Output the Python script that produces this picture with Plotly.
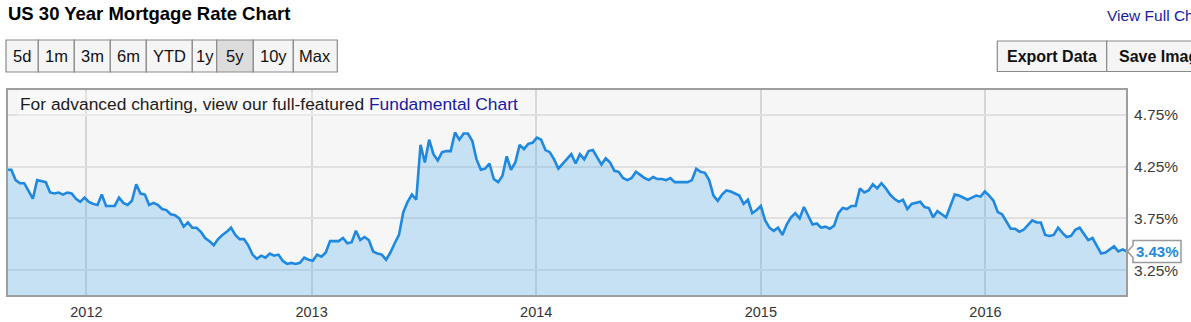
import pandas as pd
import plotly.graph_objects as go

# ---- data: weekly US 30-year mortgage rate (%), Aug 25 2011 .. Aug 18 2016 ----
start_date = "2011-08-25"
rates_2011 = [4.22, 4.22, 4.12, 4.09, 4.09, 4.01, 3.94, 4.12, 4.11, 4.10, 4.00, 3.99,
              4.00, 3.98, 4.00, 3.99, 3.94, 3.91, 3.95]
rates_2012 = [3.91, 3.89, 3.88, 3.98, 3.87, 3.87, 3.87, 3.95, 3.90, 3.88, 3.92, 4.08,
              3.99, 3.98, 3.88, 3.90, 3.88, 3.84, 3.83, 3.79, 3.78, 3.75, 3.67, 3.71,
              3.66, 3.66, 3.62, 3.56, 3.53, 3.49, 3.55, 3.59, 3.62, 3.66, 3.59, 3.55,
              3.55, 3.49, 3.40, 3.36, 3.39, 3.37, 3.41, 3.39, 3.40, 3.34, 3.31, 3.32,
              3.31, 3.32, 3.37, 3.35]
rates_2013 = [3.34, 3.40, 3.38, 3.42, 3.53, 3.53, 3.53, 3.56, 3.51, 3.52, 3.63, 3.54,
              3.57, 3.54, 3.43, 3.41, 3.40, 3.35, 3.42, 3.51, 3.59, 3.81, 3.91, 3.98,
              3.93, 4.46, 4.29, 4.51, 4.37, 4.31, 4.39, 4.40, 4.40, 4.58, 4.51, 4.57,
              4.57, 4.50, 4.32, 4.22, 4.23, 4.28, 4.13, 4.10, 4.16, 4.35, 4.22, 4.29,
              4.46, 4.42, 4.47, 4.48]
rates_2014 = [4.53, 4.51, 4.41, 4.39, 4.32, 4.23, 4.28, 4.33, 4.37, 4.28, 4.37, 4.32,
              4.40, 4.41, 4.34, 4.27, 4.33, 4.29, 4.21, 4.20, 4.14, 4.12, 4.14, 4.20,
              4.17, 4.14, 4.12, 4.15, 4.13, 4.13, 4.12, 4.14, 4.10, 4.10, 4.10, 4.10,
              4.12, 4.23, 4.20, 4.19, 4.12, 3.97, 3.92, 3.98, 4.02, 4.01, 3.99, 3.97,
              3.89, 3.93, 3.80, 3.83, 3.87]
rates_2015 = [3.73, 3.66, 3.63, 3.66, 3.59, 3.69, 3.76, 3.80, 3.75, 3.86, 3.78, 3.69,
              3.70, 3.66, 3.67, 3.65, 3.68, 3.80, 3.85, 3.84, 3.87, 3.87, 4.04, 4.00,
              4.02, 4.08, 4.04, 4.09, 4.04, 3.98, 3.94, 3.91, 3.93, 3.84, 3.89, 3.90,
              3.91, 3.86, 3.85, 3.76, 3.82, 3.79, 3.76, 3.87, 3.98, 3.97, 3.95, 3.93,
              3.95, 3.97, 3.96, 4.01]
rates_2016 = [3.97, 3.92, 3.81, 3.79, 3.72, 3.65, 3.65, 3.62, 3.64, 3.68, 3.73, 3.71,
              3.71, 3.59, 3.58, 3.59, 3.66, 3.61, 3.57, 3.58, 3.64, 3.66, 3.60, 3.54,
              3.56, 3.48, 3.41, 3.42, 3.45, 3.48, 3.43, 3.45, 3.43]
rates = rates_2011 + rates_2012 + rates_2013 + rates_2014 + rates_2015 + rates_2016
dates = pd.date_range(start=start_date, periods=len(rates), freq="7D")

year_ticks = ["2012-01-01", "2013-01-01", "2014-01-01", "2015-01-01", "2016-01-01"]
year_labels = ["2012", "2013", "2014", "2015", "2016"]
y_ticks = [3.25, 3.75, 4.25, 4.75]
y_labels = ["3.25%", "3.75%", "4.25%", "4.75%"]
range_buttons = ["5d", "1m", "3m", "6m", "YTD", "1y", "5y", "10y", "Max"]
button_edges = [6, 38.3, 74.3, 110.3, 146.3, 192.3, 216.7, 253.3, 293.3, 337.3]
active_button = "5y"
last_value = rates[-1]

# ---- geometry ----
W, H = 1191, 322
L, R, T, B = 7, 1127, 89, 296
FONT = "Arial, Liberation Sans, sans-serif"
LINE_C = "#1f88e0"


def px(x):
    return (x - L) / (R - L)


def py(y):
    return (B - y) / (B - T)


fig = go.Figure()
fig.add_trace(go.Scatter(
    x=dates, y=rates, mode="lines",
    line=dict(color=LINE_C, width=2.6),
    fill="tozeroy", fillcolor="rgba(86,173,239,0.30)",
    hoverinfo="skip", showlegend=False,
))

shapes = []
annotations = []

# plot border
shapes.append(dict(type="rect", xref="paper", yref="paper", x0=0, x1=1, y0=0, y1=1,
                   line=dict(color="#9e9e9e", width=2), layer="above"))

# title
annotations.append(dict(text="<b>US 30 Year Mortgage Rate Chart</b>", xref="paper", yref="paper",
                        x=px(6), y=py(14), xanchor="left", yanchor="middle", showarrow=False,
                        font=dict(family=FONT, size=18.5, color="#000")))
# view full chart link
annotations.append(dict(text="View Full Chart", xref="paper", yref="paper",
                        x=px(1105), y=py(15), xanchor="left", yanchor="middle", showarrow=False,
                        font=dict(family=FONT, size=15.5, color="#1a1aa6")))

# range buttons
for i, lab in enumerate(range_buttons):
    x0, x1 = button_edges[i], button_edges[i + 1]
    fill = "#dcdcdc" if lab == active_button else "#f5f5f5"
    shapes.append(dict(type="rect", xref="paper", yref="paper", x0=px(x0), x1=px(x1),
                       y0=py(72), y1=py(40), fillcolor=fill, line=dict(color="#8a8a8a", width=1.2)))
    annotations.append(dict(text=lab, xref="paper", yref="paper", x=px((x0 + x1) / 2), y=py(56.5),
                            xanchor="center", yanchor="middle", showarrow=False,
                            font=dict(family=FONT, size=16.5, color="#111")))

# export / save buttons
for lab, x0, x1, tx, anch in [("Export Data", 997.3, 1106.7, 1052, "center"),
                              ("Save Image", 1106.7, 1215, 1117, "left")]:
    shapes.append(dict(type="rect", xref="paper", yref="paper", x0=px(x0), x1=px(x1),
                       y0=py(71.5), y1=py(41), fillcolor="#f5f5f5", line=dict(color="#8a8a8a", width=1.2)))
    annotations.append(dict(text=f"<b>{lab}</b>", xref="paper", yref="paper", x=px(tx), y=py(57),
                            xanchor=anch, yanchor="middle", showarrow=False,
                            font=dict(family=FONT, size=16, color="#111")))

# advanced charting note
annotations.append(dict(
    text="For advanced charting, view our full-featured <span style='color:#1a1aa6'>Fundamental Chart</span>",
    xref="paper", yref="paper", x=px(17), y=py(104), xanchor="left", yanchor="middle", showarrow=False,
    bgcolor="rgba(255,255,255,0.3)", borderpad=2,
    font=dict(family=FONT, size=17.4, color="#1c1c1c")))

# last value callout
yv = B - (last_value - 3.0) / 2.0 * (B - T)
bx0, bx1, by0, by1 = 1133, 1181, yv - 11, yv + 11
path = (f"M {px(1127.5)},{py(yv)} L {px(bx0)},{py(yv - 6)} L {px(bx0)},{py(by0)} "
        f"L {px(bx1)},{py(by0)} L {px(bx1)},{py(by1)} L {px(bx0)},{py(by1)} "
        f"L {px(bx0)},{py(yv + 6)} Z")
shapes.append(dict(type="path", xref="paper", yref="paper", path=path, fillcolor="white",
                   line=dict(color="#9a9a9a", width=1.5), layer="above"))
annotations.append(dict(text=f"<b>{last_value:.2f}%</b>", xref="paper", yref="paper",
                        x=px((bx0 + bx1) / 2 + 0.5), y=py(yv), xanchor="center", yanchor="middle",
                        showarrow=False, font=dict(family=FONT, size=15, color="#2189e0")))

fig.update_layout(
    width=W, height=H,
    margin=dict(l=L, r=W - R, t=T, b=H - B, pad=0, autoexpand=False),
    paper_bgcolor="white", plot_bgcolor="#f6f6f6",
    shapes=shapes, annotations=annotations,
    showlegend=False,
    xaxis=dict(range=[dates[0], dates[-1]], tickvals=year_ticks, ticktext=year_labels,
               showgrid=True, gridcolor="#d6d6d6", gridwidth=1.5, zeroline=False, showline=False,
               ticks="outside", ticklen=3, tickcolor="rgba(0,0,0,0)", automargin=False,
               tickfont=dict(family=FONT, size=14.5, color="#333"), fixedrange=True),
    yaxis=dict(range=[3.0, 5.0], side="right", tickvals=y_ticks, ticktext=y_labels,
               showgrid=True, gridcolor="#e0e0e0", gridwidth=2, zeroline=False, showline=False,
               ticks="outside", ticklen=3, tickcolor="rgba(0,0,0,0)", automargin=False,
               tickfont=dict(family=FONT, size=15.5, color="#3a3a3a"), fixedrange=True),
)

fig.write_html("out.html", config={"displayModeBar": False})
